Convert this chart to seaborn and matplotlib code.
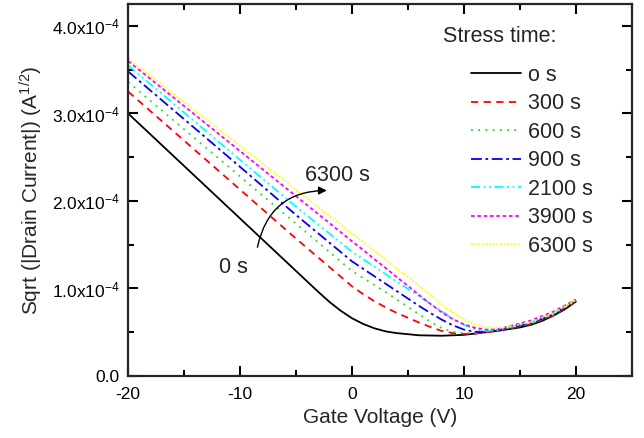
import numpy as np
import pandas as pd
import matplotlib
matplotlib.use("Agg")
import matplotlib.pyplot as plt
from matplotlib.ticker import MultipleLocator, FuncFormatter
import seaborn as sns

sns.set_style("ticks")
plt.rcParams['font.family'] = ['Liberation Sans', 'DejaVu Sans']
plt.rcParams['mathtext.default'] = 'regular'
plt.rcParams['axes.unicode_minus'] = False

# gate voltage (V); sqrt(|Id|) in units of 1e-4 A^1/2
vg_fresh = [-20, -10, -4, -3, -2, -1, 0, 1, 2, 3, 4, 6, 8, 10, 12, 14, 15, 16, 17, 18, 19, 20]
id_0s = [3.00, 1.80, 1.08, 0.96, 0.845, 0.745, 0.66, 0.595, 0.545, 0.51, 0.49, 0.465, 0.46, 0.47,
         0.50, 0.535, 0.555, 0.585, 0.63, 0.69, 0.76, 0.85]

vg = [-20, -10, -5, 0, 1, 2, 3, 4, 5, 6, 7, 8, 9, 10, 11, 12, 13, 14, 16, 18, 20]
id_300s  = [3.25, 2.13, 1.57, 1.025, 0.935, 0.855, 0.785, 0.72, 0.665, 0.61, 0.56, 0.515, 0.49, 0.48, 0.485, 0.50, 0.515, 0.54, 0.595, 0.69, 0.86]
id_600s  = [3.36, 2.28, 1.74, 1.20, 1.12, 1.04, 0.96, 0.875, 0.79, 0.705, 0.62, 0.55, 0.505, 0.49, 0.49, 0.505, 0.52, 0.545, 0.60, 0.70, 0.86]
id_900s  = [3.48, 2.39, 1.84, 1.31, 1.225, 1.14, 1.055, 0.97, 0.885, 0.80, 0.72, 0.645, 0.58, 0.53, 0.505, 0.505, 0.52, 0.55, 0.605, 0.705, 0.865]
id_2100s = [3.55, 2.47, 1.935, 1.42, 1.335, 1.25, 1.165, 1.08, 0.995, 0.91, 0.825, 0.74, 0.655, 0.585, 0.535, 0.515, 0.525, 0.555, 0.615, 0.715, 0.87]
id_3900s = [3.60, 2.57, 2.055, 1.54, 1.44, 1.335, 1.235, 1.13, 1.03, 0.925, 0.825, 0.73, 0.65, 0.59, 0.55, 0.53, 0.535, 0.565, 0.635, 0.735, 0.875]
id_6300s = [3.63, 2.63, 2.13, 1.63, 1.53, 1.43, 1.33, 1.23, 1.13, 1.03, 0.925, 0.82, 0.725, 0.645, 0.585, 0.555, 0.55, 0.56, 0.62, 0.72, 0.87]

labels = ['o s', '300 s', '600 s', '900 s', '2100 s', '3900 s', '6300 s']
xs = [vg_fresh, vg, vg, vg, vg, vg, vg]
curves = [id_0s, id_300s, id_600s, id_900s, id_2100s, id_3900s, id_6300s]
colors = ['black', 'red', '#22dd22', 'blue', 'cyan', 'magenta', '#ffff00']
dashes = ['', (4, 3), (1, 3), (6, 2, 1.5, 2), (5, 2, 1, 2, 1, 2), (2, 1.5), (1, 1)]

df = pd.concat([
    pd.DataFrame({'vg': x, 'sqrt_id': np.array(c) * 1e-4, 'time': lab})
    for lab, x, c in zip(labels, xs, curves)
])

fig = plt.figure(figsize=(6.44, 4.38), dpi=100)
ax = fig.add_axes([0.199, 0.1416, 0.782, 0.849])

sns.lineplot(data=df, x='vg', y='sqrt_id', hue='time', style='time',
             palette=dict(zip(labels, colors)), dashes=dict(zip(labels, dashes)),
             linewidth=1.3, ax=ax, legend=False, sort=False)

for lab, col, d in zip(labels, colors, dashes):
    ax.plot([], [], color=col, dashes=d if d else (None, None), lw=1.3, label=lab)

ax.set_xlim(-20, 25)
ax.set_ylim(0, 4.25e-4)
ax.xaxis.set_major_locator(MultipleLocator(10))
ax.xaxis.set_minor_locator(MultipleLocator(5))
ax.yaxis.set_major_locator(MultipleLocator(1e-4))
ax.yaxis.set_minor_locator(MultipleLocator(0.5e-4))


def yfmt(v, pos):
    if abs(v) < 1e-12:
        return '0.0'
    return r'%.1fx10$^{-4}$' % (v / 1e-4)


ax.yaxis.set_major_formatter(FuncFormatter(yfmt))
ax.tick_params(which='both', direction='in', top=True, right=True, width=1.5,
               labelsize=12.5, colors='black')
ax.tick_params(which='major', length=7)
ax.tick_params(which='minor', length=4)
ax.tick_params(axis='x', which='major', pad=8)
ax.tick_params(axis='y', which='major', pad=6)
for s in ax.spines.values():
    s.set_linewidth(1.6)

ax.set_xlabel('Gate Voltage (V)', fontsize=15, labelpad=4)
ax.set_ylabel('Sqrt (|Drain Current|) (A$^{1/2}$)', fontsize=15)
ax.yaxis.set_label_coords(-0.166, 0.5)

# curved arrow from 0 s to 6300 s
ax.annotate('', xy=(-2.0, 2.12e-4), xytext=(-8.5, 1.44e-4),
            arrowprops=dict(arrowstyle='-|>', color='black', lw=1.0,
                            mutation_scale=12,
                            connectionstyle='arc3,rad=-0.42'))
ax.text(-4.2, 2.29e-4, '6300 s', fontsize=15.5, va='center', ha='left')
ax.text(-11.9, 1.24e-4, '0 s', fontsize=15.5, va='center', ha='left')

ax.legend(loc='upper right', bbox_to_anchor=(0.961, 0.889),
          frameon=False, fontsize=15.5,
          handlelength=2.35, labelspacing=0.35, handletextpad=0.3)
ax.text(0.625, 0.914, 'Stress time:', transform=ax.transAxes, fontsize=15.5,
        va='center', ha='left')

fig.savefig('out.png', dpi=100, facecolor='white')
